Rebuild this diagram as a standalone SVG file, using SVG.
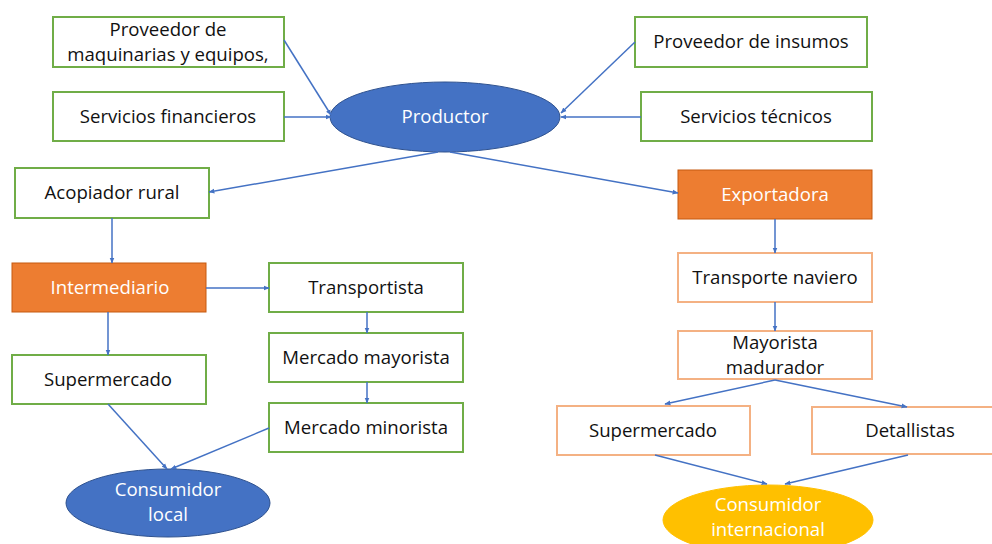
<svg xmlns="http://www.w3.org/2000/svg" width="992" height="544" viewBox="0 0 992 544">
<style>
.g{fill:#fff;stroke:#70AD47;stroke-width:2}
.o{fill:#fff;stroke:#F4B183;stroke-width:2}
.of{fill:#ED7D31;stroke:#C55A11;stroke-width:1}
.b{fill:#4472C4;stroke:#2F528F;stroke-width:1}
.y{fill:#FFC000;stroke:#FFC000;stroke-width:1}
text{font-family:"Open Sans","Liberation Sans",Arial,sans-serif;font-size:18.6px;text-anchor:middle;fill:#111}
.w{fill:#fff}
.c line{stroke:#4472C4;stroke-width:1.5;marker-end:url(#a)}
</style>
<defs>
<marker id="a" viewBox="0 0 10 10" refX="9" refY="5" markerWidth="6" markerHeight="6" orient="auto" markerUnits="userSpaceOnUse"><path d="M0,1 L10,5 L0,9 z" fill="#4472C4"/></marker>
</defs>
<g id="maquinarias"><rect class="g" x="53" y="17" width="231" height="50"/><text x="168" y="36">Proveedor de</text><text x="168" y="61">maquinarias y equipos,</text></g>
<g id="financieros"><rect class="g" x="53" y="92" width="231" height="49"/><text x="168" y="123">Servicios financieros</text></g>
<g id="productor"><ellipse class="b" cx="445" cy="117" rx="115" ry="35"/><text class="w" x="445" y="123">Productor</text></g>
<g id="insumos"><rect class="g" x="635" y="17" width="232" height="50"/><text x="751" y="48">Proveedor de insumos</text></g>
<g id="tecnicos"><rect class="g" x="641" y="92" width="231" height="49"/><text x="756" y="123">Servicios técnicos</text></g>
<g id="acopiador"><rect class="g" x="15" y="168" width="194" height="50"/><text x="112" y="199">Acopiador rural</text></g>
<g id="exportadora"><rect class="of" x="678" y="170" width="194" height="49"/><text class="w" x="775" y="201">Exportadora</text></g>
<g id="intermediario"><rect class="of" x="12" y="263" width="194" height="49"/><text class="w" x="110" y="294">Intermediario</text></g>
<g id="transportista"><rect class="g" x="269" y="263" width="194" height="49"/><text x="366" y="294">Transportista</text></g>
<g id="supermercado-local"><rect class="g" x="12" y="355" width="194" height="49"/><text x="108" y="386">Supermercado</text></g>
<g id="mayorista"><rect class="g" x="269" y="333" width="194" height="49"/><text x="366" y="364">Mercado mayorista</text></g>
<g id="minorista"><rect class="g" x="269" y="403" width="194" height="49"/><text x="366" y="434">Mercado minorista</text></g>
<g id="consumidor-local"><ellipse class="b" cx="168" cy="503" rx="102" ry="34"/><text class="w" x="168" y="496">Consumidor</text><text class="w" x="168" y="521">local</text></g>
<g id="naviero"><rect class="o" x="678" y="253" width="194" height="49"/><text x="775" y="284">Transporte naviero</text></g>
<g id="madurador"><rect class="o" x="678" y="331" width="194" height="48"/><text x="775" y="349">Mayorista</text><text x="775" y="374">madurador</text></g>
<g id="supermercado-int"><rect class="o" x="557" y="406" width="193" height="49"/><text x="653" y="437">Supermercado</text></g>
<g id="detallistas"><rect class="o" x="812" y="407" width="194" height="47"/><text x="910" y="437">Detallistas</text></g>
<g id="consumidor-int"><ellipse class="y" cx="768" cy="520" rx="105" ry="35"/><text class="w" x="768" y="511">Consumidor</text><text class="w" x="768" y="536">internacional</text></g>
<g id="connectors" class="c">
<line x1="284" y1="40" x2="331" y2="115"/>
<line x1="284" y1="117" x2="331" y2="117"/>
<line x1="635" y1="42" x2="561" y2="113"/>
<line x1="641" y1="117" x2="561" y2="117"/>
<line x1="438" y1="152" x2="209" y2="192"/>
<line x1="450" y1="152" x2="678" y2="193"/>
<line x1="112" y1="218" x2="112" y2="263"/>
<line x1="775" y1="219" x2="775" y2="253"/>
<line x1="206" y1="288" x2="269" y2="288"/>
<line x1="108" y1="312" x2="108" y2="355"/>
<line x1="367" y1="312" x2="367" y2="333"/>
<line x1="367" y1="382" x2="367" y2="403"/>
<line x1="108" y1="404" x2="167" y2="469"/>
<line x1="269" y1="428" x2="171" y2="469"/>
<line x1="775" y1="302" x2="775" y2="331"/>
<line x1="775" y1="380" x2="665" y2="404"/>
<line x1="775" y1="380" x2="907" y2="407"/>
<line x1="655" y1="455" x2="767" y2="484"/>
<line x1="908" y1="455" x2="785" y2="484"/>
</g>
</svg>
